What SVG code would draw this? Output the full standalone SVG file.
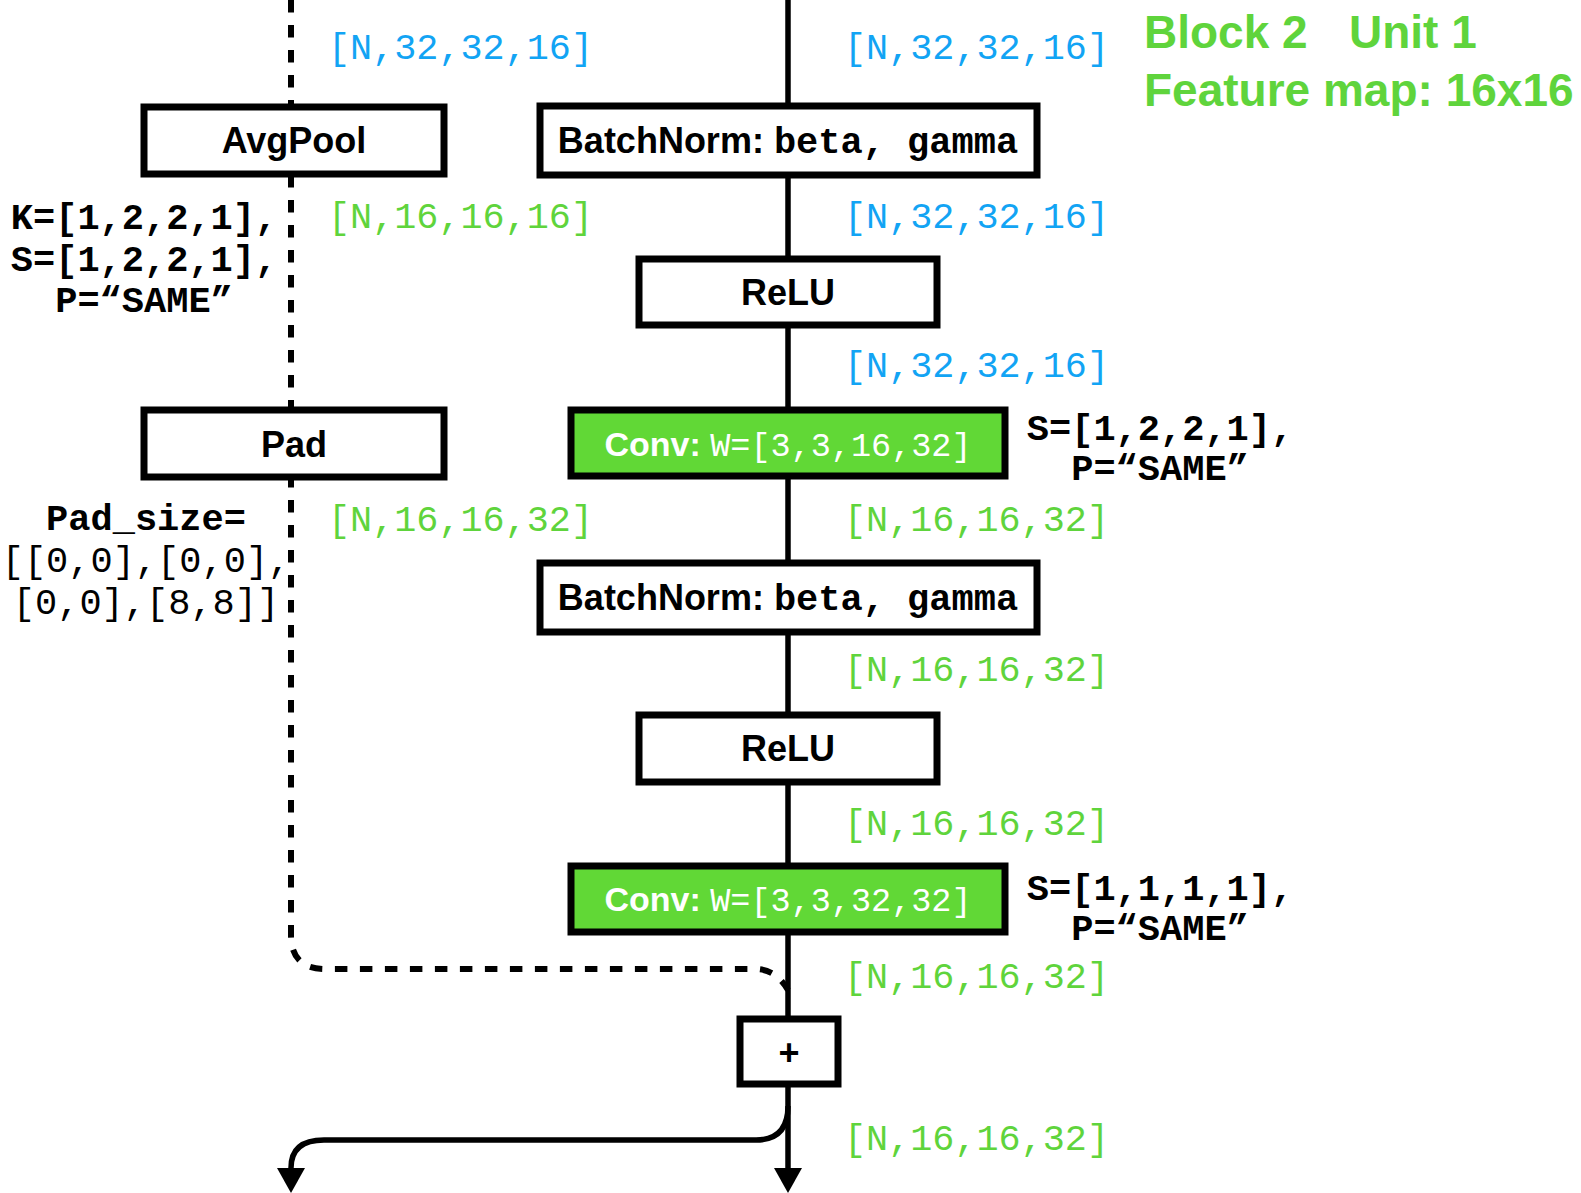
<svg xmlns="http://www.w3.org/2000/svg" width="1581" height="1193" viewBox="0 0 1581 1193">
<style>
.box{fill:#fff;stroke:#000;stroke-width:7}
.conv{fill:#61d836;stroke:#000;stroke-width:7}
.lbl{font-family:"Liberation Sans",Arial,sans-serif;font-weight:bold;font-size:36px;fill:#000}
.clbl{font-family:"Liberation Sans",Arial,sans-serif;font-weight:bold;font-size:34px;fill:#fff}
.mono{font-family:"Liberation Mono","Courier New",monospace}
.dimb{font-family:"Liberation Mono","Courier New",monospace;font-size:36.8px;fill:#12a4f4}
.dimg{font-family:"Liberation Mono","Courier New",monospace;font-size:36.8px;fill:#5fd43c}
.par{font-family:"Liberation Mono","Courier New",monospace;font-weight:bold;font-size:37px;fill:#000}
.parn{font-family:"Liberation Mono","Courier New",monospace;font-size:37px;fill:#000}
.title{font-family:"Liberation Sans",Arial,sans-serif;font-weight:bold;font-size:46px;fill:#5fd43c}
.solid{fill:none;stroke:#000;stroke-width:5.5}
.dash{fill:none;stroke:#000;stroke-width:6;stroke-dasharray:12.5 12.5}
</style>
<defs>
<marker id="arr" markerUnits="userSpaceOnUse" markerWidth="27" markerHeight="28" refX="0" refY="14" orient="auto" viewBox="0 0 25 28">
<path d="M0,0 L25,14 L0,28 z" fill="#000"/>
</marker>
</defs>
<rect width="1581" height="1193" fill="#fff"/>
<g id="connectors">
<path class="solid" d="M788,0 V1018"/>
<path class="dash" d="M291,0 V935 Q291,969 325,969 H755 Q776,969 788,990"/>
<path class="solid" d="M788,1085 V1168" marker-end="url(#arr)"/>
<path class="solid" d="M788,1106 Q788,1140 756,1140 H324 Q291,1140 291,1168" marker-end="url(#arr)"/>
</g>
<g id="title">
<text class="title" x="1144" y="48">Block 2<tspan x="1349">Unit 1</tspan></text>
<text class="title" x="1144" y="106">Feature map: 16x16</text>
</g>
<g id="avgpool">
<rect class="box" x="144" y="107" width="300" height="67"/>
<text class="lbl" x="294" y="153" text-anchor="middle">AvgPool</text>
</g>
<g id="pad">
<rect class="box" x="144" y="410" width="300" height="67"/>
<text class="lbl" x="294" y="457" text-anchor="middle">Pad</text>
</g>
<g id="bn1">
<rect class="box" x="540" y="106" width="497" height="69"/>
<text class="lbl" x="788" y="153" text-anchor="middle" font-size="37px">BatchNorm: <tspan class="mono" font-size="37px">beta, gamma</tspan></text>
</g>
<g id="relu1">
<rect class="box" x="639" y="259" width="298" height="66"/>
<text class="lbl" x="788" y="305" text-anchor="middle">ReLU</text>
</g>
<g id="conv1">
<rect class="conv" x="571" y="410" width="434" height="66"/>
<text class="clbl" x="788" y="456" text-anchor="middle">Conv: <tspan class="mono" font-weight="normal" font-size="33.5px">W=[3,3,16,32]</tspan></text>
</g>
<g id="bn2">
<rect class="box" x="540" y="563" width="497" height="69"/>
<text class="lbl" x="788" y="610" text-anchor="middle" font-size="37px">BatchNorm: <tspan class="mono" font-size="37px">beta, gamma</tspan></text>
</g>
<g id="relu2">
<rect class="box" x="639" y="715" width="298" height="67"/>
<text class="lbl" x="788" y="761" text-anchor="middle">ReLU</text>
</g>
<g id="conv2">
<rect class="conv" x="571" y="866" width="434" height="66"/>
<text class="clbl" x="788" y="911" text-anchor="middle">Conv: <tspan class="mono" font-weight="normal" font-size="33.5px">W=[3,3,32,32]</tspan></text>
</g>
<g id="add">
<rect class="box" x="740" y="1019" width="98" height="65"/>
<text class="lbl" x="789" y="1065" text-anchor="middle" font-size="30px">+</text>
</g>
<g id="dims">
<text class="dimb" x="328" y="59">[N,32,32,16]</text>
<text class="dimb" x="844" y="59">[N,32,32,16]</text>
<text class="dimg" x="328" y="228">[N,16,16,16]</text>
<text class="dimb" x="844" y="228">[N,32,32,16]</text>
<text class="dimb" x="844" y="377">[N,32,32,16]</text>
<text class="dimg" x="328" y="531">[N,16,16,32]</text>
<text class="dimg" x="844" y="531">[N,16,16,32]</text>
<text class="dimg" x="844" y="681">[N,16,16,32]</text>
<text class="dimg" x="844" y="835">[N,16,16,32]</text>
<text class="dimg" x="844" y="988">[N,16,16,32]</text>
<text class="dimg" x="844" y="1150">[N,16,16,32]</text>
</g>
<g id="params">
<text class="par" x="144" y="229" text-anchor="middle">K=[1,2,2,1],</text>
<text class="par" x="144" y="271" text-anchor="middle">S=[1,2,2,1],</text>
<text class="par" x="144" y="312" text-anchor="middle">P=“SAME”</text>
<text class="par" x="146" y="530" text-anchor="middle">Pad_size=</text>
<text class="parn" x="146" y="572" text-anchor="middle">[[0,0],[0,0],</text>
<text class="parn" x="146" y="614" text-anchor="middle">[0,0],[8,8]]</text>
<text class="par" x="1160" y="440" text-anchor="middle">S=[1,2,2,1],</text>
<text class="par" x="1160" y="480" text-anchor="middle">P=“SAME”</text>
<text class="par" x="1160" y="900" text-anchor="middle">S=[1,1,1,1],</text>
<text class="par" x="1160" y="940" text-anchor="middle">P=“SAME”</text>
</g>
</svg>
